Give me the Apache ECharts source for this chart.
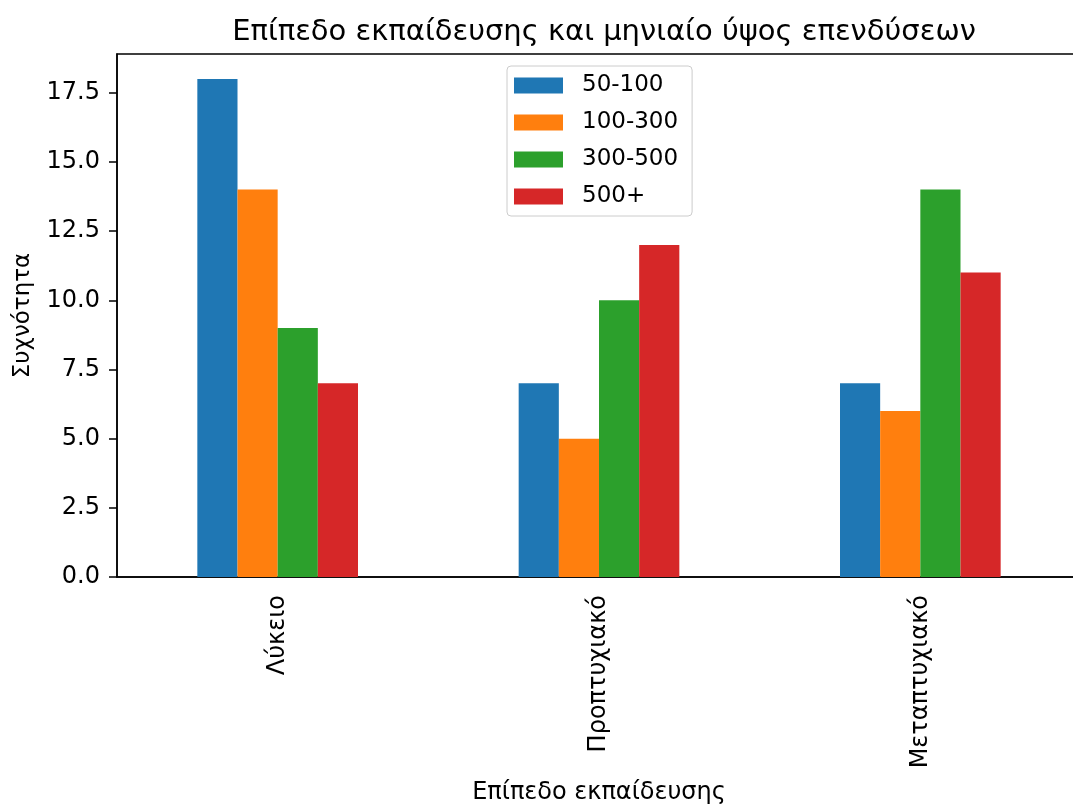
<!DOCTYPE html>
<html>
<head>
<meta charset="utf-8">
<script src="https://cdn.jsdelivr.net/npm/echarts@6/dist/echarts.min.js"></script>
<style>
  html, body { margin: 0; padding: 0; background: #fff; overflow: hidden; }
  /* το γράφημα είναι λίγο πλατύτερο από το παράθυρο: ο δεξιός άξονας κόβεται όπως στο πρωτότυπο */
  #chart { width: 1090px; height: 805px; }
</style>
</head>
<body>
<div id="chart"></div>
<script>
// κατηγορίες και τιμές
var levels = ['Λύκειο', 'Προπτυχιακό', 'Μεταπτυχιακό'];
var ranges = ['50-100', '100-300', '300-500', '500+'];
var s50_100 = [18, 7, 7];
var s100_300 = [14, 5, 6];
var s300_500 = [9, 10, 14];
var s500plus = [7, 12, 11];
var yTicks = [0, 2.5, 5, 7.5, 10, 12.5, 15, 17.5];

var colors = ['#1f77b4', '#ff7f0e', '#2ca02c', '#d62728'];
var font = 'DejaVu Sans';

var chart = echarts.init(document.getElementById('chart'));

var makeSeries = function(name, data) {
	return {
		name : name,
		type : 'bar',
		barWidth : '12.5%',
		barGap : '0%',
		data : data
	};
};

var option = {
	animation : false,
	color : colors,
	textStyle : { fontFamily : font },
	title : {
		text : 'Επίπεδο εκπαίδευσης και μηνιαίο ύψος επενδύσεων',
		left : 599,
		textAlign : 'center',
		top : 13,
		textStyle : { fontFamily : font, fontSize : 29, fontWeight : 'normal', color : '#000' }
	},
	legend : {
		data : ranges,
		orient : 'vertical',
		left : 507,
		top : 66,
		icon : 'rect',
		itemWidth : 49,
		itemHeight : 16,
		itemGap : 14,
		padding : [8, 14, 8, 7],
		borderColor : '#cccccc',
		borderWidth : 1,
		borderRadius : 4,
		backgroundColor : 'rgba(255,255,255,0.8)',
		textStyle : { fontFamily : font, fontSize : 23, color : '#000', padding : [0, 0, 0, 14] }
	},
	grid : {
		left : 117,
		top : 54,
		right : 9,
		bottom : 228,
		outerBoundsMode : 'none',
		show : true,
		borderColor : '#000',
		borderWidth : 1.5,
		backgroundColor : 'transparent'
	},
	xAxis : {
		type : 'category',
		data : levels,
		name : 'Επίπεδο εκπαίδευσης',
		nameLocation : 'middle',
		nameGap : 204,
		nameTextStyle : { fontFamily : font, fontSize : 24, color : '#000' },
		axisLine : { lineStyle : { color : '#000', width : 1.5 } },
		axisTick : { alignWithLabel : true, length : 8, lineStyle : { color : '#000', width : 1.5 } },
		axisLabel : { rotate : 90, margin : 18, fontFamily : font, fontSize : 24, color : '#000' }
	},
	yAxis : {
		type : 'value',
		min : 0,
		max : 18.9,
		interval : 2.5,
		name : 'Συχνότητα',
		nameLocation : 'middle',
		nameGap : 82,
		nameTextStyle : { fontFamily : font, fontSize : 23, color : '#000' },
		splitLine : { show : false },
		axisLine : { show : true, lineStyle : { color : '#000', width : 1.5 } },
		axisTick : { show : true, length : 8, lineStyle : { color : '#000', width : 1.5 } },
		axisLabel : {
			margin : 17,
			fontFamily : font,
			fontSize : 24,
			color : '#000',
			showMaxLabel : false,
			formatter : function(v) {
				return yTicks.indexOf(v) >= 0 ? v.toFixed(1) : '';
			}
		}
	},
	series : [
		makeSeries(ranges[0], s50_100),
		makeSeries(ranges[1], s100_300),
		makeSeries(ranges[2], s300_500),
		makeSeries(ranges[3], s500plus)
	]
};
chart.setOption(option);
</script>
</body>
</html>
